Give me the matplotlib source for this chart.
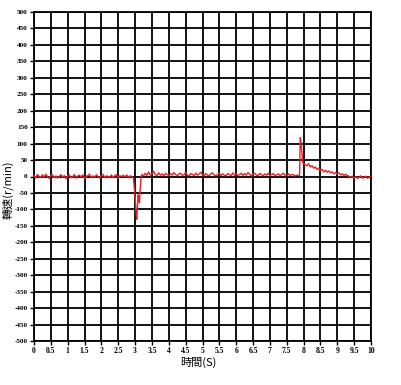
import numpy as np
import matplotlib
matplotlib.use("Agg")
import matplotlib.pyplot as plt

plt.rcParams['font.family'] = ['Noto Sans CJK TC', 'DejaVu Sans']

# --- data ---
# segment 1: steady noise, t = 0.00 .. 2.90 step 0.05
seg1_vals = [3, -5, 6, 1, -4, 5, -2, 7, 0, -6, 3, 5, -4, 2, -5, 0, 6, -2, 3, -7,
             1, 5, -4, 0, 6, -5, 2, 4, -2, 5, -6, 0, 3, 7, -4, 2, -2, 5, 0, -5,
             3, 6, -4, 2, 0, -3, 5, -4, 3, 6, -5, 2, 0, 4, -2, 5, -4, 2, 0]
# dip around 3 s
dip_t = [2.95, 3.00, 3.03, 3.05, 3.07, 3.09, 3.11, 3.13, 3.15, 3.18]
dip_v = [-4, -60, -112, -130, -95, -56, -70, -80, -40, 2]
# segment 2: t = 3.20 .. 7.85 step 0.05
seg2_vals = [6, 2, 10, 3, 14, 4, 9, 16, 5, 3, 11, 4, 8, 2, 10, 6, 3, 9, 4, 12,
             6, 2, 8, 10, 3, 6, 12, 4, 2, 9, 6, 3, 10, 4, 8, 13, 6, 2, 9, 4,
             3, 8, 11, 4, 2, 6, 10, 3, 8, 4, 2, 9, 6, 3, 11, 4, 8, 2, 6, 10,
             3, 9, 4, 12, 6, 2, 8, 10, 4, 3, 9, 6, 2, 8, 4, 10, 3, 6, 9, 2,
             5, 8, 3, 6, 10, 4, 2, 8, 3, 6, 5, 2, 4, 3]
# spike around 7.9 s
spk_t = [7.88, 7.90, 7.92, 7.95, 7.98, 8.00]
spk_v = [3, 118, 108, 72, 42, 38]
# segment 3: t = 8.05 .. 10.00 step 0.05
seg3_vals = [36, 32, 39, 29, 33, 25, 29, 21, 25, 18, 22, 14, 19, 13, 17, 11, 14, 8,
             12, 7, 11, 5, 8, 3, 7, 2, 1, -4, 1, -5, -1, -6, -2, 2, -5, -2, 1, -6,
             -1, 2]

t1 = np.round(np.arange(len(seg1_vals)) * 0.05, 2)
t2 = np.round(3.20 + np.arange(len(seg2_vals)) * 0.05, 2)
t3 = np.round(8.05 + np.arange(len(seg3_vals)) * 0.05, 2)

t = np.concatenate([t1, dip_t, t2, spk_t, t3])
v = np.concatenate([seg1_vals, dip_v, seg2_vals, spk_v, seg3_vals])

xticks = np.arange(0, 10.01, 0.5)
xtick_labels = ['0', '0.5', '1', '1.5', '2', '2.5', '3', '3.5', '4', '4.5', '5',
                '5.5', '6', '6.5', '7', '7.5', '8', '8.5', '9', '9.5', '10']
yticks = np.arange(-500, 501, 50)
ytick_labels = [str(int(y)) for y in yticks]

fig = plt.figure(figsize=(4.01, 3.85), dpi=100)
ax = fig.add_axes([34/401, 44/385, 337/401, 329/385])

ax.plot(t, v, color='#e8202a', lw=1.0, zorder=3)

ax.set_xlim(0, 10)
ax.set_ylim(-500, 500)
ax.set_xticks(xticks)
ax.set_xticklabels(xtick_labels, family='Liberation Serif', fontweight='bold', fontsize=5.5)
ax.set_yticks(yticks)
ax.set_yticklabels(ytick_labels, family='Liberation Serif', fontweight='bold', fontsize=5.2)
ax.grid(True, color='black', lw=1.3, zorder=1)
ax.tick_params(direction='out', length=3, width=1, pad=1.5, colors='black')
for s in ax.spines.values():
    s.set_linewidth(1.3)

ax.set_xlabel('時間(S)', fontsize=8)
ax.set_ylabel('轉速(r/min)', fontsize=8)
ax.xaxis.set_label_coords(0.487, -0.048)
ax.yaxis.set_label_coords(-0.06, 0.46)

fig.savefig('out.png', dpi=100)
